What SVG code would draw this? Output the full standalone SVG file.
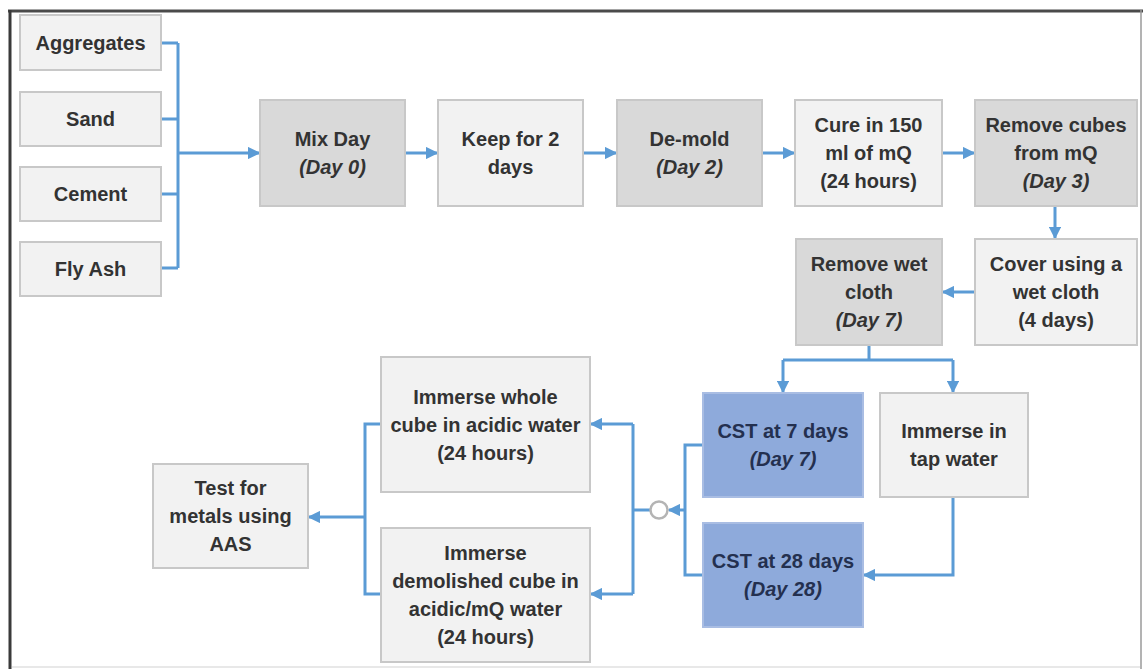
<svg xmlns="http://www.w3.org/2000/svg" width="1143" height="669" viewBox="0 0 1143 669">
<defs>
<style>
.box{stroke:#c8c8c8;stroke-width:2}
.lt{fill:#f2f2f2}
.dk{fill:#d9d9d9}
.bl{fill:#8eaadb;stroke:#a9bde3}
text{font-family:"Liberation Sans",Arial,sans-serif;font-weight:bold;font-size:20px;fill:#333333;text-anchor:middle}
.it{font-style:italic}
.bt{fill:#24304f}
.c{fill:none;stroke:#5b9bd5;stroke-width:3}
</style>
<marker id="ah" viewBox="0 0 10 10" refX="9" refY="5" markerWidth="4.2" markerHeight="4.2" markerUnits="strokeWidth" orient="auto">
<path d="M0,0 L10,5 L0,10 z" fill="#5b9bd5"/>
</marker>
</defs>
<rect x="0" y="0" width="1143" height="669" fill="#ffffff"/>
<g id="frame">
<line x1="8" y1="11" x2="1143" y2="11" stroke="#4a4a4a" stroke-width="3"/>
<line x1="10" y1="10" x2="10" y2="669" stroke="#3a3a3a" stroke-width="3"/>
<line x1="1141" y1="10" x2="1141" y2="669" stroke="#9a9a9a" stroke-width="1.5"/>
<line x1="12" y1="667" x2="1140" y2="667" stroke="#e0e0e0" stroke-width="1.5"/>
</g>
<g id="connectors">
<path class="c" d="M161,43 H178 M161,119 H178 M161,194 H178 M161,268 H178 M178,43 V268"/>
<path class="c" d="M178,153 H259" marker-end="url(#ah)"/>
<path class="c" d="M405,153 H437" marker-end="url(#ah)"/>
<path class="c" d="M583,153 H616" marker-end="url(#ah)"/>
<path class="c" d="M762,153 H794" marker-end="url(#ah)"/>
<path class="c" d="M942,153 H974" marker-end="url(#ah)"/>
<path class="c" d="M1055,206 V238" marker-end="url(#ah)"/>
<path class="c" d="M975,292 H943" marker-end="url(#ah)"/>
<path class="c" d="M869,345 V360 M783,360 H953"/>
<path class="c" d="M783,360 V392" marker-end="url(#ah)"/>
<path class="c" d="M953,360 V392" marker-end="url(#ah)"/>
<path class="c" d="M953,497 V575 H864" marker-end="url(#ah)"/>
<path class="c" d="M703,445 H685 V575 H703"/>
<path class="c" d="M685,510 H669" marker-end="url(#ah)"/>
<path class="c" d="M650,510 H633 M633,424 V594"/>
<path class="c" d="M633,424 H591" marker-end="url(#ah)"/>
<path class="c" d="M633,594 H591" marker-end="url(#ah)"/>
<path class="c" d="M381,424 H365 V594 H381 M365,517 H340"/>
<path class="c" d="M340,517 H309" marker-end="url(#ah)"/>
<circle cx="659" cy="510" r="8.5" fill="#ffffff" stroke="#b4b4b4" stroke-width="2.5"/>
</g>
<g id="aggregates"><rect class="box lt" x="20" y="15" width="141" height="55"/><text x="90.5" y="49.5">Aggregates</text></g>
<g id="sand"><rect class="box lt" x="20" y="92" width="141" height="54"/><text x="90.5" y="126">Sand</text></g>
<g id="cement"><rect class="box lt" x="20" y="167" width="141" height="54"/><text x="90.5" y="201">Cement</text></g>
<g id="flyash"><rect class="box lt" x="20" y="242" width="141" height="54"/><text x="90.5" y="276">Fly Ash</text></g>
<g id="mixday"><rect class="box dk" x="260" y="100" width="145" height="106"/><text x="332.5" y="146">Mix Day</text><text class="it" x="332.5" y="174">(Day 0)</text></g>
<g id="keep"><rect class="box lt" x="438" y="100" width="145" height="106"/><text x="510.5" y="146">Keep for 2</text><text x="510.5" y="174">days</text></g>
<g id="demold"><rect class="box dk" x="617" y="100" width="145" height="106"/><text x="689.5" y="146">De-mold</text><text class="it" x="689.5" y="174">(Day 2)</text></g>
<g id="cure"><rect class="box lt" x="795" y="100" width="147" height="106"/><text x="868.5" y="132">Cure in 150</text><text x="868.5" y="160">ml of mQ</text><text x="868.5" y="188">(24 hours)</text></g>
<g id="removecubes"><rect class="box dk" x="975" y="100" width="162" height="106"/><text x="1056" y="132">Remove cubes</text><text x="1056" y="160">from mQ</text><text class="it" x="1056" y="188">(Day 3)</text></g>
<g id="cover"><rect class="box lt" x="975" y="239" width="162" height="106"/><text x="1056" y="271">Cover using a</text><text x="1056" y="299">wet cloth</text><text x="1056" y="327">(4 days)</text></g>
<g id="removewet"><rect class="box dk" x="796" y="239" width="146" height="106"/><text x="869" y="271">Remove wet</text><text x="869" y="299">cloth</text><text class="it" x="869" y="327">(Day 7)</text></g>
<g id="cst7"><rect class="box bl" x="703" y="393" width="160" height="104"/><text class="bt" x="783" y="438">CST at 7 days</text><text class="bt it" x="783" y="466">(Day 7)</text></g>
<g id="tapwater"><rect class="box lt" x="880" y="393" width="148" height="104"/><text x="954" y="438">Immerse in</text><text x="954" y="466">tap water</text></g>
<g id="cst28"><rect class="box bl" x="703" y="523" width="160" height="104"/><text class="bt" x="783" y="568">CST at 28 days</text><text class="bt it" x="783" y="596">(Day 28)</text></g>
<g id="immersewhole"><rect class="box lt" x="381" y="357" width="209" height="135"/><text x="485.5" y="404">Immerse whole</text><text x="485.5" y="432">cube in acidic water</text><text x="485.5" y="460">(24 hours)</text></g>
<g id="immersedemolished"><rect class="box lt" x="381" y="528" width="209" height="134"/><text x="485.5" y="560">Immerse</text><text x="485.5" y="588">demolished cube in</text><text x="485.5" y="616">acidic/mQ water</text><text x="485.5" y="644">(24 hours)</text></g>
<g id="testmetals"><rect class="box lt" x="153" y="464" width="155" height="104"/><text x="230.5" y="495">Test for</text><text x="230.5" y="523">metals using</text><text x="230.5" y="551">AAS</text></g>
</svg>
